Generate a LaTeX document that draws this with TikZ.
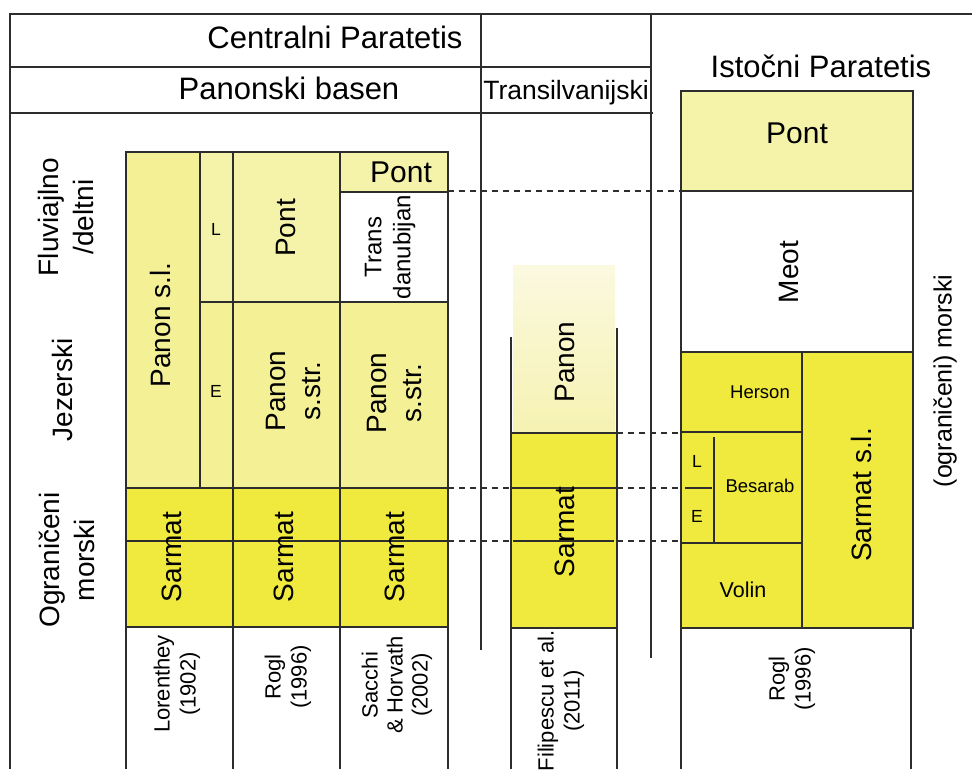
\documentclass[tikz,border=0pt]{standalone}
\usepackage{fontspec}
\setmainfont{Liberation Sans}
\usetikzlibrary{positioning}
\definecolor{zutaS}{RGB}{240,233,62}
\definecolor{zutaP}{RGB}{244,240,150}
\definecolor{zutaL}{RGB}{245,243,170}
\definecolor{panonT}{RGB}{251,249,224}
\definecolor{panonB}{RGB}{246,242,178}
\definecolor{linija}{RGB}{45,45,45}
\tikzset{
  crta/.style={draw=linija,line width=1.4pt},
  isprek/.style={draw=linija,line width=1.4pt,dash pattern=on 6pt off 5pt},
  nasl/.style={anchor=base,inner sep=0pt,font=\fontsize{31}{36}\selectfont},
  vel/.style={inner sep=0pt,align=center,font=\fontsize{28}{35}\selectfont},
  rot/.style={vel,rotate=90},
  mal/.style={anchor=base,inner sep=0pt,font=\fontsize{17.5}{20}\selectfont},
  ref/.style={rot,font=\fontsize{22}{26}\selectfont},
}
\begin{document}
\begin{tikzpicture}[x=1pt,y=-1pt]
  \useasboundingbox (0,0) rectangle (972,769);
  \clip (0,0) rectangle (972,769);
  % okvir
  \draw[crta] (972,14) -- (10,14) -- (10,769);
  \draw[crta] (10,67) -- (651,67) (10,113) -- (653,113);
  \draw[crta] (481,14) -- (481,650) (651,14) -- (651,658);
  \node[nasl] (cp) at (335,48) {Centralni Paratetis};
  \node[nasl] (pb) at (289,99) {Panonski basen};
  \node[nasl,font=\fontsize{26.5}{30}\selectfont] (tr) at (566,99) {Transilvanijski};
  \node[nasl] (ip) at (821,77) {Istočni Paratetis};
  \node[rot] (fluv) at (66,217) {Fluviajlno\\/deltni};
  \node[rot] (jez) at (62,390) {Jezerski};
  \node[rot] (ogr) at (67,560) {Ograničeni\\morski};
  \node[rot,font=\fontsize{25}{30}\selectfont] (morski) at (945,381) {(ograničeni) morski};

  % Panonski basen
  \filldraw[crta,fill=zutaP] (126,152) rectangle (200,488);
  \filldraw[crta,fill=zutaL] (200,152) rectangle (233,302);
  \filldraw[crta,fill=zutaP] (200,302) rectangle (233,488);
  \filldraw[crta,fill=zutaL] (233,152) rectangle (340,302);
  \filldraw[crta,fill=zutaP] (233,302) rectangle (340,488);
  \filldraw[crta,fill=zutaL] (340,152) rectangle (448,192);
  \filldraw[crta,fill=white] (340,192) rectangle (448,302);
  \filldraw[crta,fill=zutaP] (340,302) rectangle (448,488);
  \filldraw[crta,fill=zutaS] (126,488) rectangle (448,627);
  \draw[crta] (126,541) -- (448,541);
  \foreach \x in {126,233,340,448} \draw[crta] (\x,488) -- (\x,769);
  \node[rot] (panSL) at (160,325) {Panon s.l.};
  \node[mal] (lL) at (216,235) {L};
  \node[mal] (lE) at (216,397) {E};
  \node[rot] (pontC) at (286,228) {Pont};
  \node[vel,anchor=base,font=\fontsize{30}{34}\selectfont] (pontD) at (401,182) {Pont};
  \node[rot,font=\fontsize{24}{29}\selectfont] (trans) at (390,247) {Trans\\danubijan};
  \node[rot] (panSC) at (294,391) {Panon\\s.str.};
  \node[rot] (panSD) at (394,393) {Panon\\s.str.};
  \foreach \x/\ime in {172/sarA,284/sarC,395/sarD}
    \node[rot] (\ime) at (\x,557) {Sarmat};
  \node[ref] (lor) at (177,684) {Lorenthey\\(1902)};
  \node[ref] (roglC) at (288,677) {Rogl\\(1996)};
  \node[ref,font=\fontsize{22}{25}\selectfont] (sac) at (397,685) {Sacchi\\\& Horvath\\(2002)};

  % Transilvanijski
  \fill[top color=panonT,bottom color=panonB] (513,265) rectangle (615,433);
  \filldraw[crta,fill=zutaS] (511,433) rectangle (617,628);
  \draw[crta] (511,488) -- (617,488) (513,541) -- (614,541);
  \draw[crta] (511,337) -- (511,769) (617,328) -- (617,769);
  \node[rot] (panT) at (565,362) {Panon};
  \node[rot] (sarT) at (565,532) {Sarmat};
  \node[ref] (fil) at (561,701) {Filipescu et al.\\(2011)};

  % Istocni Paratetis
  \filldraw[crta,fill=zutaL] (681,91) rectangle (913,191);
  \filldraw[crta,fill=white] (681,191) rectangle (913,352);
  \filldraw[crta,fill=zutaS] (681,352) rectangle (913,628);
  \draw[crta] (802,352) -- (802,628) (681,432) -- (802,432) (681,543) -- (802,543);
  \draw[crta] (714,437) -- (714,543) (685,488) -- (712,488);
  \draw[crta] (681,628) -- (681,769) (911,628) -- (911,769);
  \node[vel,anchor=base,font=\fontsize{30}{34}\selectfont] (pontI) at (797,143) {Pont};
  \node[rot] (meot) at (789,272) {Meot};
  \node[mal,font=\fontsize{18.5}{22}\selectfont] (her) at (760,398) {Herson};
  \node[mal,font=\fontsize{18.5}{22}\selectfont] (bes) at (760,492) {Besarab};
  \node[mal,font=\fontsize{21.5}{24}\selectfont] (vol) at (743,597) {Volin};
  \node[mal] (iL) at (697,467) {L};
  \node[mal] (iE) at (697,522) {E};
  \node[rot] (sarSL) at (861,495) {Sarmat s.l.};
  \node[ref] (roglI) at (792,679) {Rogl\\(1996)};

  % korelacije
  \coordinate (kP1) at (448,191);  \coordinate (kP2) at (681,191);
  \coordinate (kH1) at (617,433);  \coordinate (kH2) at (681,433);
  \coordinate (kB1) at (448,488);  \coordinate (kB2) at (511,488);
  \coordinate (kB3) at (617,488);  \coordinate (kB4) at (681,488);
  \coordinate (kV1) at (448,541);  \coordinate (kV2) at (511,541);
  \coordinate (kV3) at (617,541);  \coordinate (kV4) at (681,541);
  \draw[isprek] (kP1) -- (kP2);
  \draw[isprek] (kH1) -- (kH2);
  \draw[isprek] (kB1) -- (kB2) (kB3) -- (kB4);
  \draw[isprek] (kV1) -- (kV2) (kV3) -- (kV4);
\end{tikzpicture}
\end{document}
